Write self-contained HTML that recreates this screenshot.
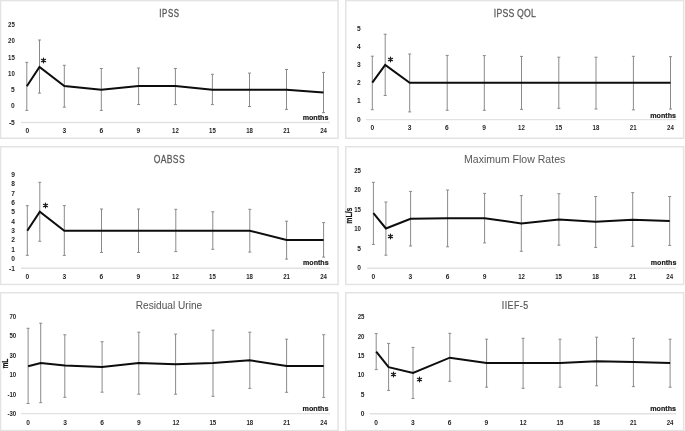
<!DOCTYPE html>
<html><head><meta charset="utf-8"><style>
html,body{margin:0;padding:0;background:#fff;}
svg{display:block;will-change:transform;}
text{font-family:"Liberation Sans", sans-serif;}
.l{font-size:7.0px;font-weight:bold;fill:#262626;}
.m{font-size:8px;font-weight:bold;fill:#1a1a1a;stroke:#1a1a1a;stroke-width:0.2px;}
.s{font-size:11px;fill:#1a1a1a;}
</style></head><body>
<svg width="685" height="431" viewBox="0 0 685 431">
<rect width="685" height="431" fill="#fff"/>
<rect x="0.55" y="0.55" width="337.5" height="137.7" fill="#fff" stroke="#e3e3e3" stroke-width="1.5"/>
<text transform="translate(159.2,16.5) scale(0.74,1)" x="0" y="0" font-size="10.6" fill="#595959" stroke="#595959" stroke-width="0.36" letter-spacing="0.9">IPSS</text>
<line x1="21" y1="122.5" x2="330" y2="122.5" stroke="#e2e2e2" stroke-width="1.4"/>
<text x="14.8" y="27" class="l" text-anchor="end" textLength="6.77" lengthAdjust="spacingAndGlyphs">25</text>
<text x="14.8" y="43.2" class="l" text-anchor="end" textLength="6.77" lengthAdjust="spacingAndGlyphs">20</text>
<text x="14.8" y="59.5" class="l" text-anchor="end" textLength="6.77" lengthAdjust="spacingAndGlyphs">15</text>
<text x="14.8" y="75.7" class="l" text-anchor="end" textLength="6.77" lengthAdjust="spacingAndGlyphs">10</text>
<text x="14.8" y="92.2" class="l" text-anchor="end" textLength="3.7" lengthAdjust="spacingAndGlyphs">5</text>
<text x="14.8" y="108.3" class="l" text-anchor="end" textLength="3.7" lengthAdjust="spacingAndGlyphs">0</text>
<text x="14.8" y="124.8" class="l" text-anchor="end" textLength="5.91" lengthAdjust="spacingAndGlyphs">-5</text>
<text x="27.3" y="132.5" class="l" text-anchor="middle" textLength="3.7" lengthAdjust="spacingAndGlyphs">0</text>
<text x="64.34" y="132.5" class="l" text-anchor="middle" textLength="3.7" lengthAdjust="spacingAndGlyphs">3</text>
<text x="101.38" y="132.5" class="l" text-anchor="middle" textLength="3.7" lengthAdjust="spacingAndGlyphs">6</text>
<text x="138.41" y="132.5" class="l" text-anchor="middle" textLength="3.7" lengthAdjust="spacingAndGlyphs">9</text>
<text x="175.45" y="132.5" class="l" text-anchor="middle" textLength="6.77" lengthAdjust="spacingAndGlyphs">12</text>
<text x="212.49" y="132.5" class="l" text-anchor="middle" textLength="6.77" lengthAdjust="spacingAndGlyphs">15</text>
<text x="249.53" y="132.5" class="l" text-anchor="middle" textLength="6.77" lengthAdjust="spacingAndGlyphs">18</text>
<text x="286.56" y="132.5" class="l" text-anchor="middle" textLength="6.77" lengthAdjust="spacingAndGlyphs">21</text>
<text x="323.6" y="132.5" class="l" text-anchor="middle" textLength="6.77" lengthAdjust="spacingAndGlyphs">24</text>
<text x="302.7" y="120.3" class="m" textLength="25.7" lengthAdjust="spacingAndGlyphs">months</text>
<path d="M26.8 62.4V110.4M25.3 62.4H28.3M25.3 110.4H28.3" stroke="#8a8a8a" stroke-width="1" fill="none"/>
<path d="M39.5 40V93.1M38 40H41M38 93.1H41" stroke="#8a8a8a" stroke-width="1" fill="none"/>
<path d="M64.3 65.3V107.2M62.8 65.3H65.8M62.8 107.2H65.8" stroke="#8a8a8a" stroke-width="1" fill="none"/>
<path d="M101.3 68.5V110.4M99.8 68.5H102.8M99.8 110.4H102.8" stroke="#8a8a8a" stroke-width="1" fill="none"/>
<path d="M138.6 68V104.5M137.1 68H140.1M137.1 104.5H140.1" stroke="#8a8a8a" stroke-width="1" fill="none"/>
<path d="M175.4 68.5V104.6M173.9 68.5H176.9M173.9 104.6H176.9" stroke="#8a8a8a" stroke-width="1" fill="none"/>
<path d="M212.4 74.3V104.6M210.9 74.3H213.9M210.9 104.6H213.9" stroke="#8a8a8a" stroke-width="1" fill="none"/>
<path d="M249.5 73.1V106.5M248 73.1H251M248 106.5H251" stroke="#8a8a8a" stroke-width="1" fill="none"/>
<path d="M286.5 69.5V109.4M285 69.5H288M285 109.4H288" stroke="#8a8a8a" stroke-width="1" fill="none"/>
<path d="M323.5 72.4V112.6M322 72.4H325M322 112.6H325" stroke="#8a8a8a" stroke-width="1" fill="none"/>
<path d="M26.8 86.2 L39.5 67 L64.3 86 L101.3 89.7 L138.6 86 L175.4 86 L212.4 89.7 L249.5 89.7 L286.5 89.7 L323.5 92.6" stroke="#0d0d0d" stroke-width="2" fill="none" stroke-linejoin="miter"/>
<path d="M43.5 58.2V62.8M41.45 59.3L45.55 61.7M41.45 61.7L45.55 59.3" stroke="#1a1a1a" stroke-width="1.25" stroke-linecap="round" fill="none"/>
<rect x="345.75" y="0.55" width="337.9" height="137.7" fill="#fff" stroke="#e3e3e3" stroke-width="1.5"/>
<text transform="translate(493.8,16.6) scale(0.82,1)" x="0" y="0" font-size="10.6" fill="#595959" stroke="#595959" stroke-width="0.25" letter-spacing="0.25">IPSS QOL</text>
<line x1="366" y1="119.6" x2="676.6" y2="119.6" stroke="#e2e2e2" stroke-width="1.4"/>
<text x="360.6" y="30.6" class="l" text-anchor="end" textLength="3.7" lengthAdjust="spacingAndGlyphs">5</text>
<text x="360.6" y="49" class="l" text-anchor="end" textLength="3.7" lengthAdjust="spacingAndGlyphs">4</text>
<text x="360.6" y="67.1" class="l" text-anchor="end" textLength="3.7" lengthAdjust="spacingAndGlyphs">3</text>
<text x="360.6" y="85.2" class="l" text-anchor="end" textLength="3.7" lengthAdjust="spacingAndGlyphs">2</text>
<text x="360.6" y="103.3" class="l" text-anchor="end" textLength="3.7" lengthAdjust="spacingAndGlyphs">1</text>
<text x="360.6" y="122.2" class="l" text-anchor="end" textLength="3.7" lengthAdjust="spacingAndGlyphs">0</text>
<text x="372.3" y="130.3" class="l" text-anchor="middle" textLength="3.7" lengthAdjust="spacingAndGlyphs">0</text>
<text x="409.57" y="130.3" class="l" text-anchor="middle" textLength="3.7" lengthAdjust="spacingAndGlyphs">3</text>
<text x="446.85" y="130.3" class="l" text-anchor="middle" textLength="3.7" lengthAdjust="spacingAndGlyphs">6</text>
<text x="484.12" y="130.3" class="l" text-anchor="middle" textLength="3.7" lengthAdjust="spacingAndGlyphs">9</text>
<text x="521.4" y="130.3" class="l" text-anchor="middle" textLength="6.77" lengthAdjust="spacingAndGlyphs">12</text>
<text x="558.67" y="130.3" class="l" text-anchor="middle" textLength="6.77" lengthAdjust="spacingAndGlyphs">15</text>
<text x="595.95" y="130.3" class="l" text-anchor="middle" textLength="6.77" lengthAdjust="spacingAndGlyphs">18</text>
<text x="633.23" y="130.3" class="l" text-anchor="middle" textLength="6.77" lengthAdjust="spacingAndGlyphs">21</text>
<text x="670.5" y="130.3" class="l" text-anchor="middle" textLength="6.77" lengthAdjust="spacingAndGlyphs">24</text>
<text x="650.2" y="117.8" class="m" textLength="25.8" lengthAdjust="spacingAndGlyphs">months</text>
<path d="M372.3 56.2V109.7M370.8 56.2H373.8M370.8 109.7H373.8" stroke="#8a8a8a" stroke-width="1" fill="none"/>
<path d="M385.2 34.2V95.5M383.7 34.2H386.7M383.7 95.5H386.7" stroke="#8a8a8a" stroke-width="1" fill="none"/>
<path d="M409.7 54V111.9M408.2 54H411.2M408.2 111.9H411.2" stroke="#8a8a8a" stroke-width="1" fill="none"/>
<path d="M447.2 55.4V110.3M445.7 55.4H448.7M445.7 110.3H448.7" stroke="#8a8a8a" stroke-width="1" fill="none"/>
<path d="M484.3 55.6V110.3M482.8 55.6H485.8M482.8 110.3H485.8" stroke="#8a8a8a" stroke-width="1" fill="none"/>
<path d="M521.5 56.4V109.4M520 56.4H523M520 109.4H523" stroke="#8a8a8a" stroke-width="1" fill="none"/>
<path d="M558.8 57.2V108.3M557.3 57.2H560.3M557.3 108.3H560.3" stroke="#8a8a8a" stroke-width="1" fill="none"/>
<path d="M596 57.2V109M594.5 57.2H597.5M594.5 109H597.5" stroke="#8a8a8a" stroke-width="1" fill="none"/>
<path d="M633.4 56.3V109.9M631.9 56.3H634.9M631.9 109.9H634.9" stroke="#8a8a8a" stroke-width="1" fill="none"/>
<path d="M670.5 56.7V109M669 56.7H672M669 109H672" stroke="#8a8a8a" stroke-width="1" fill="none"/>
<path d="M372.3 82.7 L385.2 64.9 L409.7 82.7 L447.2 82.7 L484.3 82.7 L521.5 82.7 L558.8 82.7 L596 82.7 L633.4 82.7 L670.5 82.7" stroke="#0d0d0d" stroke-width="2" fill="none" stroke-linejoin="miter"/>
<path d="M390.5 57.2V61.8M388.45 58.3L392.55 60.7M388.45 60.7L392.55 58.3" stroke="#1a1a1a" stroke-width="1.25" stroke-linecap="round" fill="none"/>
<rect x="0.55" y="146.75" width="337.5" height="137.7" fill="#fff" stroke="#e3e3e3" stroke-width="1.5"/>
<text transform="translate(153.8,162.6) scale(0.81,1)" x="0" y="0" font-size="10.6" fill="#595959" stroke="#595959" stroke-width="0.27" letter-spacing="0.4">OABSS</text>
<line x1="21" y1="268.3" x2="330" y2="268.3" stroke="#e2e2e2" stroke-width="1.4"/>
<text x="15" y="176.7" class="l" text-anchor="end" textLength="3.7" lengthAdjust="spacingAndGlyphs">9</text>
<text x="15" y="186.2" class="l" text-anchor="end" textLength="3.7" lengthAdjust="spacingAndGlyphs">8</text>
<text x="15" y="195.6" class="l" text-anchor="end" textLength="3.7" lengthAdjust="spacingAndGlyphs">7</text>
<text x="15" y="204.8" class="l" text-anchor="end" textLength="3.7" lengthAdjust="spacingAndGlyphs">6</text>
<text x="15" y="214.3" class="l" text-anchor="end" textLength="3.7" lengthAdjust="spacingAndGlyphs">5</text>
<text x="15" y="223.8" class="l" text-anchor="end" textLength="3.7" lengthAdjust="spacingAndGlyphs">4</text>
<text x="15" y="233" class="l" text-anchor="end" textLength="3.7" lengthAdjust="spacingAndGlyphs">3</text>
<text x="15" y="242.4" class="l" text-anchor="end" textLength="3.7" lengthAdjust="spacingAndGlyphs">2</text>
<text x="15" y="251.9" class="l" text-anchor="end" textLength="3.7" lengthAdjust="spacingAndGlyphs">1</text>
<text x="15" y="261.4" class="l" text-anchor="end" textLength="3.7" lengthAdjust="spacingAndGlyphs">0</text>
<text x="15" y="271.1" class="l" text-anchor="end" textLength="5.91" lengthAdjust="spacingAndGlyphs">-1</text>
<text x="27.3" y="279.1" class="l" text-anchor="middle" textLength="3.7" lengthAdjust="spacingAndGlyphs">0</text>
<text x="64.34" y="279.1" class="l" text-anchor="middle" textLength="3.7" lengthAdjust="spacingAndGlyphs">3</text>
<text x="101.38" y="279.1" class="l" text-anchor="middle" textLength="3.7" lengthAdjust="spacingAndGlyphs">6</text>
<text x="138.41" y="279.1" class="l" text-anchor="middle" textLength="3.7" lengthAdjust="spacingAndGlyphs">9</text>
<text x="175.45" y="279.1" class="l" text-anchor="middle" textLength="6.77" lengthAdjust="spacingAndGlyphs">12</text>
<text x="212.49" y="279.1" class="l" text-anchor="middle" textLength="6.77" lengthAdjust="spacingAndGlyphs">15</text>
<text x="249.53" y="279.1" class="l" text-anchor="middle" textLength="6.77" lengthAdjust="spacingAndGlyphs">18</text>
<text x="286.56" y="279.1" class="l" text-anchor="middle" textLength="6.77" lengthAdjust="spacingAndGlyphs">21</text>
<text x="323.6" y="279.1" class="l" text-anchor="middle" textLength="6.77" lengthAdjust="spacingAndGlyphs">24</text>
<text x="303" y="265.4" class="m" textLength="25.6" lengthAdjust="spacingAndGlyphs">months</text>
<path d="M27.3 205.7V255.3M25.8 205.7H28.8M25.8 255.3H28.8" stroke="#8a8a8a" stroke-width="1" fill="none"/>
<path d="M39.8 182.3V241.3M38.3 182.3H41.3M38.3 241.3H41.3" stroke="#8a8a8a" stroke-width="1" fill="none"/>
<path d="M64.3 205.6V255.4M62.8 205.6H65.8M62.8 255.4H65.8" stroke="#8a8a8a" stroke-width="1" fill="none"/>
<path d="M101.5 209V252.4M100 209H103M100 252.4H103" stroke="#8a8a8a" stroke-width="1" fill="none"/>
<path d="M138.5 209V252.4M137 209H140M137 252.4H140" stroke="#8a8a8a" stroke-width="1" fill="none"/>
<path d="M175.8 209.3V251.6M174.3 209.3H177.3M174.3 251.6H177.3" stroke="#8a8a8a" stroke-width="1" fill="none"/>
<path d="M212.8 211.8V249.3M211.3 211.8H214.3M211.3 249.3H214.3" stroke="#8a8a8a" stroke-width="1" fill="none"/>
<path d="M249.8 209.3V252.1M248.3 209.3H251.3M248.3 252.1H251.3" stroke="#8a8a8a" stroke-width="1" fill="none"/>
<path d="M286.6 221.2V259.1M285.1 221.2H288.1M285.1 259.1H288.1" stroke="#8a8a8a" stroke-width="1" fill="none"/>
<path d="M323.6 222.6V257.1M322.1 222.6H325.1M322.1 257.1H325.1" stroke="#8a8a8a" stroke-width="1" fill="none"/>
<path d="M27.3 230.7 L39.8 211.8 L64.3 230.7 L101.5 230.7 L138.5 230.7 L175.8 230.7 L212.8 230.7 L249.8 230.7 L286.6 239.9 L323.6 239.9" stroke="#0d0d0d" stroke-width="2" fill="none" stroke-linejoin="miter"/>
<path d="M45.5 203.2V207.8M43.45 204.3L47.55 206.7M43.45 206.7L47.55 204.3" stroke="#1a1a1a" stroke-width="1.25" stroke-linecap="round" fill="none"/>
<rect x="345.75" y="146.75" width="337.9" height="137.7" fill="#fff" stroke="#e3e3e3" stroke-width="1.5"/>
<text transform="translate(464,162.6) scale(0.995,1)" x="0" y="0" font-size="10.6" fill="#595959" stroke="#595959" stroke-width="0.01" letter-spacing="0">Maximum Flow Rates</text>
<line x1="367.3" y1="268.2" x2="675.8" y2="268.2" stroke="#e2e2e2" stroke-width="1.4"/>
<text x="361" y="172.5" class="l" text-anchor="end" textLength="6.77" lengthAdjust="spacingAndGlyphs">25</text>
<text x="361" y="192" class="l" text-anchor="end" textLength="6.77" lengthAdjust="spacingAndGlyphs">20</text>
<text x="361" y="211.5" class="l" text-anchor="end" textLength="6.77" lengthAdjust="spacingAndGlyphs">15</text>
<text x="361" y="231" class="l" text-anchor="end" textLength="6.77" lengthAdjust="spacingAndGlyphs">10</text>
<text x="361" y="250.5" class="l" text-anchor="end" textLength="3.7" lengthAdjust="spacingAndGlyphs">5</text>
<text x="361" y="270" class="l" text-anchor="end" textLength="3.7" lengthAdjust="spacingAndGlyphs">0</text>
<text x="373.4" y="279.1" class="l" text-anchor="middle" textLength="3.7" lengthAdjust="spacingAndGlyphs">0</text>
<text x="410.44" y="279.1" class="l" text-anchor="middle" textLength="3.7" lengthAdjust="spacingAndGlyphs">3</text>
<text x="447.48" y="279.1" class="l" text-anchor="middle" textLength="3.7" lengthAdjust="spacingAndGlyphs">6</text>
<text x="484.51" y="279.1" class="l" text-anchor="middle" textLength="3.7" lengthAdjust="spacingAndGlyphs">9</text>
<text x="521.55" y="279.1" class="l" text-anchor="middle" textLength="6.77" lengthAdjust="spacingAndGlyphs">12</text>
<text x="558.59" y="279.1" class="l" text-anchor="middle" textLength="6.77" lengthAdjust="spacingAndGlyphs">15</text>
<text x="595.62" y="279.1" class="l" text-anchor="middle" textLength="6.77" lengthAdjust="spacingAndGlyphs">18</text>
<text x="632.66" y="279.1" class="l" text-anchor="middle" textLength="6.77" lengthAdjust="spacingAndGlyphs">21</text>
<text x="669.7" y="279.1" class="l" text-anchor="middle" textLength="6.77" lengthAdjust="spacingAndGlyphs">24</text>
<text x="650.8" y="265.4" class="m" textLength="25.6" lengthAdjust="spacingAndGlyphs">months</text>
<text transform="translate(352.25,215.65) rotate(-90)" class="m" style="font-size:8.6px" text-anchor="middle" textLength="16.3" lengthAdjust="spacingAndGlyphs">mL/s</text>
<path d="M373.4 182.3V244.4M371.9 182.3H374.9M371.9 244.4H374.9" stroke="#8a8a8a" stroke-width="1" fill="none"/>
<path d="M385.9 202V255.2M384.4 202H387.4M384.4 255.2H387.4" stroke="#8a8a8a" stroke-width="1" fill="none"/>
<path d="M410.6 191.4V246M409.1 191.4H412.1M409.1 246H412.1" stroke="#8a8a8a" stroke-width="1" fill="none"/>
<path d="M447.6 190V246.8M446.1 190H449.1M446.1 246.8H449.1" stroke="#8a8a8a" stroke-width="1" fill="none"/>
<path d="M484.6 193.4V242.9M483.1 193.4H486.1M483.1 242.9H486.1" stroke="#8a8a8a" stroke-width="1" fill="none"/>
<path d="M521.3 195.6V251.3M519.8 195.6H522.8M519.8 251.3H522.8" stroke="#8a8a8a" stroke-width="1" fill="none"/>
<path d="M558.9 193.7V245.2M557.4 193.7H560.4M557.4 245.2H560.4" stroke="#8a8a8a" stroke-width="1" fill="none"/>
<path d="M595.7 196.5V247.4M594.2 196.5H597.2M594.2 247.4H597.2" stroke="#8a8a8a" stroke-width="1" fill="none"/>
<path d="M632.7 192.6V246.3M631.2 192.6H634.2M631.2 246.3H634.2" stroke="#8a8a8a" stroke-width="1" fill="none"/>
<path d="M669.7 196.5V245.4M668.2 196.5H671.2M668.2 245.4H671.2" stroke="#8a8a8a" stroke-width="1" fill="none"/>
<path d="M373.4 213.2 L385.9 228.5 L410.6 218.7 L447.6 218.2 L484.6 218.2 L521.3 223.4 L558.9 219.5 L595.7 221.8 L632.7 219.8 L669.7 221" stroke="#0d0d0d" stroke-width="2" fill="none" stroke-linejoin="miter"/>
<path d="M390.5 234.2V238.8M388.45 235.3L392.55 237.7M388.45 237.7L392.55 235.3" stroke="#1a1a1a" stroke-width="1.25" stroke-linecap="round" fill="none"/>
<rect x="0.55" y="292.75" width="337.5" height="137.8" fill="#fff" stroke="#e3e3e3" stroke-width="1.5"/>
<text transform="translate(135.8,308.5) scale(0.955,1)" x="0" y="0" font-size="10.6" fill="#595959" stroke="#595959" stroke-width="0.06" letter-spacing="0">Residual Urine</text>
<line x1="21" y1="413.6" x2="330" y2="413.6" stroke="#e2e2e2" stroke-width="1.4"/>
<text x="16.2" y="318.7" class="l" text-anchor="end" textLength="6.77" lengthAdjust="spacingAndGlyphs">70</text>
<text x="16.2" y="338.3" class="l" text-anchor="end" textLength="6.77" lengthAdjust="spacingAndGlyphs">50</text>
<text x="16.2" y="358" class="l" text-anchor="end" textLength="6.77" lengthAdjust="spacingAndGlyphs">30</text>
<text x="16.2" y="377.4" class="l" text-anchor="end" textLength="6.77" lengthAdjust="spacingAndGlyphs">10</text>
<text x="16.2" y="396.5" class="l" text-anchor="end" textLength="8.8" lengthAdjust="spacingAndGlyphs">-10</text>
<text x="16.2" y="415.9" class="l" text-anchor="end" textLength="8.8" lengthAdjust="spacingAndGlyphs">-30</text>
<text x="28.1" y="424.5" class="l" text-anchor="middle" textLength="3.7" lengthAdjust="spacingAndGlyphs">0</text>
<text x="65.05" y="424.5" class="l" text-anchor="middle" textLength="3.7" lengthAdjust="spacingAndGlyphs">3</text>
<text x="102" y="424.5" class="l" text-anchor="middle" textLength="3.7" lengthAdjust="spacingAndGlyphs">6</text>
<text x="138.95" y="424.5" class="l" text-anchor="middle" textLength="3.7" lengthAdjust="spacingAndGlyphs">9</text>
<text x="175.9" y="424.5" class="l" text-anchor="middle" textLength="6.77" lengthAdjust="spacingAndGlyphs">12</text>
<text x="212.85" y="424.5" class="l" text-anchor="middle" textLength="6.77" lengthAdjust="spacingAndGlyphs">15</text>
<text x="249.8" y="424.5" class="l" text-anchor="middle" textLength="6.77" lengthAdjust="spacingAndGlyphs">18</text>
<text x="286.75" y="424.5" class="l" text-anchor="middle" textLength="6.77" lengthAdjust="spacingAndGlyphs">21</text>
<text x="323.7" y="424.5" class="l" text-anchor="middle" textLength="6.77" lengthAdjust="spacingAndGlyphs">24</text>
<text x="302.6" y="411.3" class="m" textLength="25.9" lengthAdjust="spacingAndGlyphs">months</text>
<text transform="translate(7.6,363.65) rotate(-90)" class="m" style="font-size:8.6px" text-anchor="middle" textLength="9.9" lengthAdjust="spacingAndGlyphs">mL</text>
<path d="M28.1 328.3V403.5M26.6 328.3H29.6M26.6 403.5H29.6" stroke="#8a8a8a" stroke-width="1" fill="none"/>
<path d="M40.7 323.2V402.7M39.2 323.2H42.2M39.2 402.7H42.2" stroke="#8a8a8a" stroke-width="1" fill="none"/>
<path d="M64.8 334.8V397.3M63.3 334.8H66.3M63.3 397.3H66.3" stroke="#8a8a8a" stroke-width="1" fill="none"/>
<path d="M102.1 341.7V392.2M100.6 341.7H103.6M100.6 392.2H103.6" stroke="#8a8a8a" stroke-width="1" fill="none"/>
<path d="M138.8 332.2V394.2M137.3 332.2H140.3M137.3 394.2H140.3" stroke="#8a8a8a" stroke-width="1" fill="none"/>
<path d="M175.6 334.1V394.2M174.1 334.1H177.1M174.1 394.2H177.1" stroke="#8a8a8a" stroke-width="1" fill="none"/>
<path d="M213 330.2V396.3M211.5 330.2H214.5M211.5 396.3H214.5" stroke="#8a8a8a" stroke-width="1" fill="none"/>
<path d="M249.8 332.2V388.4M248.3 332.2H251.3M248.3 388.4H251.3" stroke="#8a8a8a" stroke-width="1" fill="none"/>
<path d="M286.6 339.2V392.3M285.1 339.2H288.1M285.1 392.3H288.1" stroke="#8a8a8a" stroke-width="1" fill="none"/>
<path d="M323.7 334.7V397.4M322.2 334.7H325.2M322.2 397.4H325.2" stroke="#8a8a8a" stroke-width="1" fill="none"/>
<path d="M28.1 366.2 L40.7 363.1 L64.8 365.6 L102.1 367 L138.8 363 L175.6 364.2 L213 363.1 L249.8 360.3 L286.6 365.9 L323.7 365.9" stroke="#0d0d0d" stroke-width="2" fill="none" stroke-linejoin="miter"/>
<rect x="345.75" y="292.75" width="337.9" height="137.8" fill="#fff" stroke="#e3e3e3" stroke-width="1.5"/>
<text transform="translate(501.8,308.6) scale(0.84,1)" x="0" y="0" font-size="10.6" fill="#595959" stroke="#595959" stroke-width="0.22" letter-spacing="0.5">IIEF-5</text>
<line x1="369.7" y1="413.7" x2="676" y2="413.7" stroke="#e2e2e2" stroke-width="1.4"/>
<text x="364.5" y="318.7" class="l" text-anchor="end" textLength="6.77" lengthAdjust="spacingAndGlyphs">25</text>
<text x="364.5" y="338.6" class="l" text-anchor="end" textLength="6.77" lengthAdjust="spacingAndGlyphs">20</text>
<text x="364.5" y="358" class="l" text-anchor="end" textLength="6.77" lengthAdjust="spacingAndGlyphs">15</text>
<text x="364.5" y="377.4" class="l" text-anchor="end" textLength="6.77" lengthAdjust="spacingAndGlyphs">10</text>
<text x="364.5" y="396.8" class="l" text-anchor="end" textLength="3.7" lengthAdjust="spacingAndGlyphs">5</text>
<text x="364.5" y="416.2" class="l" text-anchor="end" textLength="3.7" lengthAdjust="spacingAndGlyphs">0</text>
<text x="376.2" y="424.5" class="l" text-anchor="middle" textLength="3.7" lengthAdjust="spacingAndGlyphs">0</text>
<text x="412.94" y="424.5" class="l" text-anchor="middle" textLength="3.7" lengthAdjust="spacingAndGlyphs">3</text>
<text x="449.68" y="424.5" class="l" text-anchor="middle" textLength="3.7" lengthAdjust="spacingAndGlyphs">6</text>
<text x="486.41" y="424.5" class="l" text-anchor="middle" textLength="3.7" lengthAdjust="spacingAndGlyphs">9</text>
<text x="523.15" y="424.5" class="l" text-anchor="middle" textLength="6.77" lengthAdjust="spacingAndGlyphs">12</text>
<text x="559.89" y="424.5" class="l" text-anchor="middle" textLength="6.77" lengthAdjust="spacingAndGlyphs">15</text>
<text x="596.62" y="424.5" class="l" text-anchor="middle" textLength="6.77" lengthAdjust="spacingAndGlyphs">18</text>
<text x="633.36" y="424.5" class="l" text-anchor="middle" textLength="6.77" lengthAdjust="spacingAndGlyphs">21</text>
<text x="670.1" y="424.5" class="l" text-anchor="middle" textLength="6.77" lengthAdjust="spacingAndGlyphs">24</text>
<text x="650.2" y="411.2" class="m" textLength="25.8" lengthAdjust="spacingAndGlyphs">months</text>
<path d="M376.2 333.6V369.6M374.7 333.6H377.7M374.7 369.6H377.7" stroke="#8a8a8a" stroke-width="1" fill="none"/>
<path d="M388.6 343.4V390.4M387.1 343.4H390.1M387.1 390.4H390.1" stroke="#8a8a8a" stroke-width="1" fill="none"/>
<path d="M413 347.4V398.5M411.5 347.4H414.5M411.5 398.5H414.5" stroke="#8a8a8a" stroke-width="1" fill="none"/>
<path d="M449.8 333.3V381.3M448.3 333.3H451.3M448.3 381.3H451.3" stroke="#8a8a8a" stroke-width="1" fill="none"/>
<path d="M486.6 339.2V387.2M485.1 339.2H488.1M485.1 387.2H488.1" stroke="#8a8a8a" stroke-width="1" fill="none"/>
<path d="M523.1 338.3V388.3M521.6 338.3H524.6M521.6 388.3H524.6" stroke="#8a8a8a" stroke-width="1" fill="none"/>
<path d="M560 339.2V387.2M558.5 339.2H561.5M558.5 387.2H561.5" stroke="#8a8a8a" stroke-width="1" fill="none"/>
<path d="M596.6 337.2V385.8M595.1 337.2H598.1M595.1 385.8H598.1" stroke="#8a8a8a" stroke-width="1" fill="none"/>
<path d="M633.4 338.3V386.6M631.9 338.3H634.9M631.9 386.6H634.9" stroke="#8a8a8a" stroke-width="1" fill="none"/>
<path d="M670.1 339.2V387.2M668.6 339.2H671.6M668.6 387.2H671.6" stroke="#8a8a8a" stroke-width="1" fill="none"/>
<path d="M376.2 351.6 L388.6 367.1 L413 373 L449.8 357.7 L486.6 363 L523.1 363 L560 363 L596.6 361.3 L633.4 361.9 L670.1 363" stroke="#0d0d0d" stroke-width="2" fill="none" stroke-linejoin="miter"/>
<path d="M393.5 372.2V376.8M391.45 373.3L395.55 375.7M391.45 375.7L395.55 373.3" stroke="#1a1a1a" stroke-width="1.25" stroke-linecap="round" fill="none"/>
<path d="M419.5 377.2V381.8M417.45 378.3L421.55 380.7M417.45 380.7L421.55 378.3" stroke="#1a1a1a" stroke-width="1.25" stroke-linecap="round" fill="none"/>
</svg>
</body></html>
